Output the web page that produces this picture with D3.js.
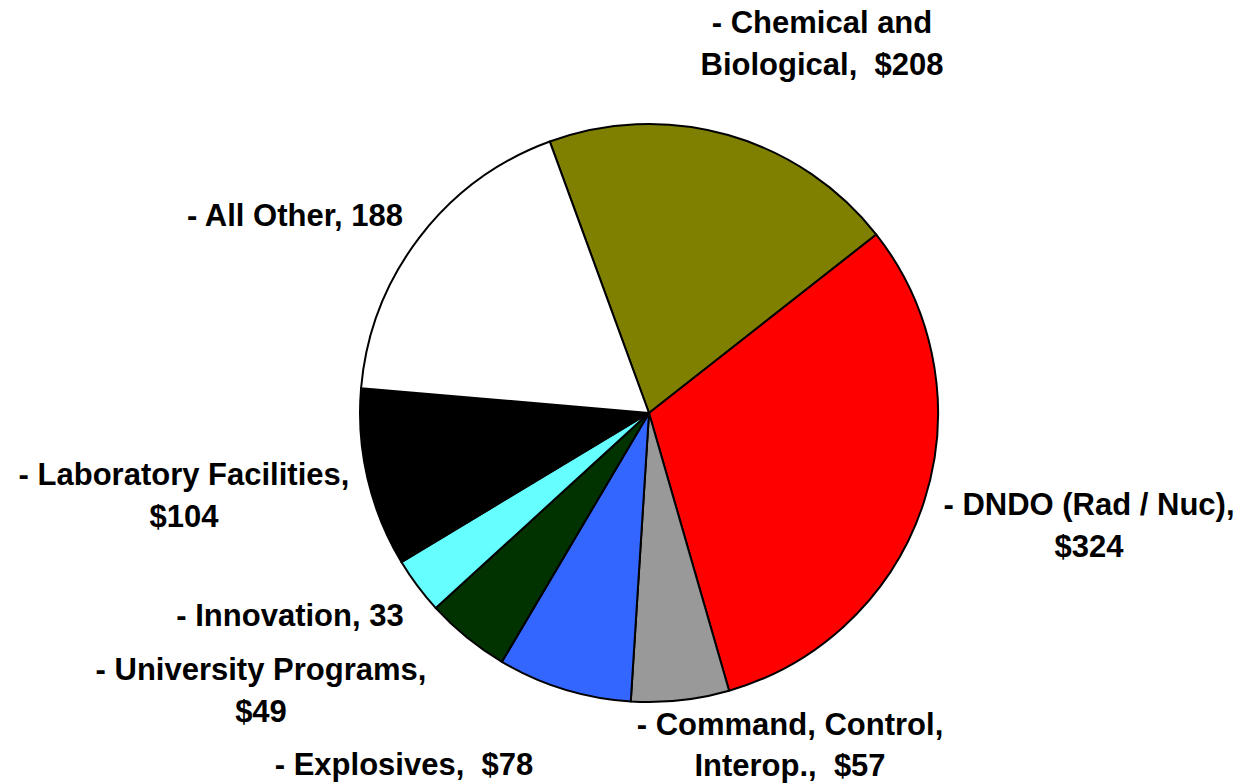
<!DOCTYPE html>
<html>
<head>
<meta charset="utf-8">
<script src="https://cdn.jsdelivr.net/npm/d3@7"></script>
<style>
  html, body { margin: 0; padding: 0; background: #fff; }
  text { font-family: "Liberation Sans", Arial, sans-serif; font-weight: bold; white-space: pre; }
</style>
</head>
<body>
<svg id="chart" width="1243" height="784"></svg>
<script>
"use strict";

// slices, clockwise from the top-left edge of Chemical and Biological
var categories = ["Chemical and Biological", "DNDO (Rad / Nuc)", "Command, Control, Interop.",
                  "Explosives", "University Programs", "Innovation", "Laboratory Facilities", "All Other"];
var values = [208, 324, 57, 78, 49, 33, 104, 188];
var colors = ["#808000", "#ff0000", "#999999", "#3366ff", "#003300", "#66ffff", "#000000", "#ffffff"];

// label text, one entry per line
var labelLines = [
  ["- Chemical and", "Biological,  $208"],
  ["- DNDO (Rad / Nuc),", "$324"],
  ["- Command, Control,", "Interop.,  $57"],
  ["- Explosives,  $78"],
  ["- University Programs,", "$49"],
  ["- Innovation, 33"],
  ["- Laboratory Facilities,", "$104"],
  ["- All Other, 188"]
];

var svg = d3.select("#chart");
var cx = 649, cy = 413, radius = 289;
var fontSize = 31, lineHeight = 42;

// where each label block sits (center x, first baseline y)
var labelAt = [
  [822, 33], [1089, 515], [790, 735], [404, 775],
  [261, 680], [290, 626], [184, 485], [295, 226]
];

var startAngle = -20.07 * Math.PI / 180;

var pie = d3.pie()
    .sort(null)
    .value(function(d) { return d; })
    .startAngle(startAngle)
    .endAngle(startAngle + 2 * Math.PI);

var arc = d3.arc().innerRadius(0).outerRadius(radius);

var g = svg.append("g")
    .attr("transform", "translate(" + cx + "," + cy + ")");

g.selectAll("path.slice")
    .data(pie(values))
    .enter().append("path")
    .attr("class", "slice")
    .attr("d", arc)
    .attr("fill", function(d, i) { return colors[i]; })
    .attr("stroke", "#000")
    .attr("stroke-width", 2)
    .attr("stroke-linejoin", "round");

// labels
var labels = svg.selectAll("text.label")
    .data(labelLines)
    .enter().append("text")
    .attr("class", "label")
    .attr("text-anchor", "middle")
    .style("font-size", fontSize + "px")
    .attr("fill", "#000");

labels.each(function(lines, i) {
    var t = d3.select(this);
    lines.forEach(function(line, j) {
        t.append("tspan")
            .attr("x", labelAt[i][0])
            .attr("y", labelAt[i][1] + j * (i === 2 ? 41 : lineHeight))
            .text(line);
    });
});
</script>
</body>
</html>
